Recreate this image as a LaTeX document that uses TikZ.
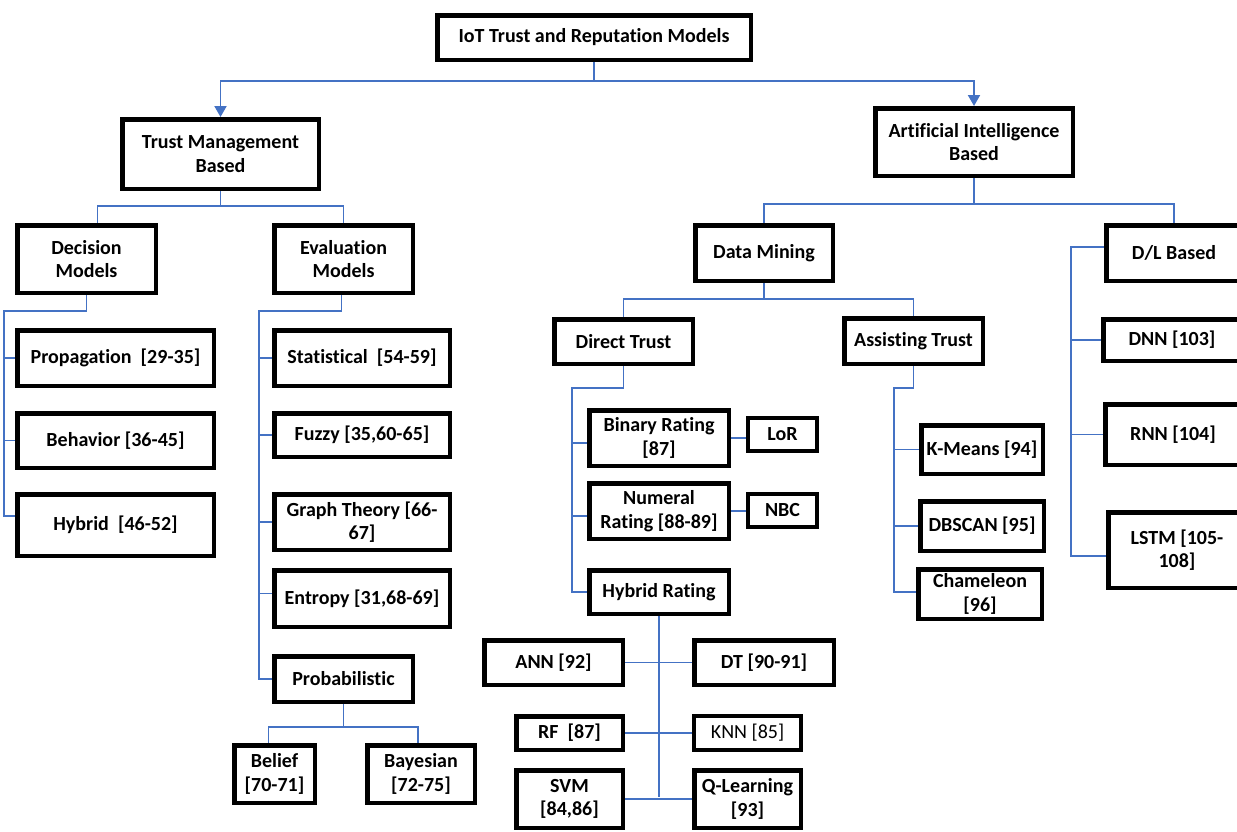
\documentclass[tikz,border=0pt]{standalone}
\usepackage{fontspec}
\setmainfont{Carlito}[Ligatures=NoCommon]
\usetikzlibrary{arrows.meta,backgrounds}
\definecolor{lnblue}{HTML}{4472C4}
\tikzset{
 box/.style={draw=black, line width=4.5pt, fill=white, inner sep=0pt, align=center, font=\fontsize{20}{23.5}\selectfont\bfseries},
 conn/.style={draw=lnblue, line width=1.9pt},
 arr/.style={conn, -{Triangle[width=12pt,length=11pt]}},
}
\newcommand{\mybox}[7][]{\node[box,#1,minimum width={(#5-#3-4.5)*1pt},minimum height={(#6-#4-4.5)*1pt}] (#2) at ({(#3+#5)/2},{(#4+#6)/2}) {#7};}
\begin{document}
\begin{tikzpicture}[x=1pt,y=-1pt]
\useasboundingbox (0,0) rectangle (1237,831);
\mybox{root}{435}{13}{753}{62}{IoT Trust and Reputation Models}
\mybox{tm}{120}{117}{321}{191}{Trust Management\\Based}
\mybox{ai}{873}{106}{1075}{178}{Artificial Intelligence\\Based}
\mybox{dec}{15}{223}{158}{295}{Decision\\Models}
\mybox{eva}{272}{223}{415}{295}{Evaluation\\Models}
\mybox{prop}{15}{328}{216}{388}{Propagation\ \ [29-35]}
\mybox{beh}{15}{411}{216}{470}{Behavior [36-45]}
\mybox{hyb}{15}{492}{216}{558}{Hybrid\ \ [46-52]}
\mybox{stat}{272}{328}{452}{388}{Statistical\ \ [54-59]}
\mybox{fuz}{272}{411}{452}{459}{Fuzzy [35,60-65]}
\mybox{gra}{272}{492}{452}{552}{Graph Theory [66-\\67]}
\mybox{ent}{272}{568}{452}{629}{Entropy [31,68-69]}
\mybox{prob}{272}{654}{415}{704}{Probabilistic}
\mybox{bel}{232}{743}{317}{805}{Belief\\{}[70-71]}
\mybox{bay}{365}{743}{477}{805}{Bayesian\\{}[72-75]}
\mybox{dm}{693}{223}{835}{283}{Data Mining}
\mybox{dl}{1104}{223}{1244}{283}{D/L Based}
\mybox{dt}{552}{317}{695}{366}{Direct Trust}
\mybox{at}{842}{316}{985}{366}{Assisting Trust}
\mybox{bin}{587}{408}{731}{468}{Binary Rating\\{}[87]}
\mybox[line width=4pt]{lor}{746}{416}{819}{453}{LoR}
\mybox{num}{587}{481}{731}{541}{Numeral\\Rating [88-89]}
\mybox[line width=4pt]{nbc}{746}{492}{819}{529}{NBC}
\mybox{hr}{587}{568}{731}{616}{Hybrid Rating}
\mybox{ann}{482}{638}{625}{687}{ANN [92]}
\mybox{dtr}{692}{638}{836}{687}{DT [90-91]}
\mybox{rf}{514}{714}{625}{752}{RF\ \ [87]}
\mybox[line width=4pt]{knn}{692}{714}{803}{752}{\mdseries KNN [85]}
\mybox{svm}{514}{768}{625}{830}{SVM\\{}[84,86]}
\mybox{ql}{692}{768}{803}{830}{Q-Learning\\{}[93]}
\mybox{km}{919}{423}{1045}{476}{K-Means [94]}
\mybox{db}{918}{499}{1046}{553}{DBSCAN [95]}
\mybox{ch}{916}{567}{1044}{621}{Chameleon\\{}[96]}
\mybox{dnn}{1101}{317}{1243}{363}{DNN [103]}
\mybox{rnn}{1103}{402}{1243}{467}{RNN [104]}
\mybox{lstm}{1106}{510}{1248}{590}{LSTM [105-\\108]}
\coordinate (entw) at ([yshift=5pt]ent.west);
\coordinate (binw) at ([yshift=-5pt]bin.west);
\coordinate (numw) at ([yshift=-5pt]num.west);
\begin{scope}[on background layer]
\fill[white] (0,0) rectangle (1237,831);
\coordinate (j0) at (594,81);
\draw[conn] (root.south) -- (j0);
\draw[arr] (j0) -| (tm.north);
\draw[arr] (j0) -| (ai.north);
% trust management
\coordinate (j1) at (220,206);
\draw[conn] (tm.south) -- (tm.south |- j1);
\draw[conn] ([xshift=11pt]dec.north) |- (j1) -| (eva.north);
% decision
\coordinate (dj) at (4,311);
\draw[conn] (dec.south) |- (dj) |- ([yshift=9pt]hyb.west);
\draw[conn] (dj |- prop.west) -- (prop.west);
\draw[conn] (dj |- beh.west) -- (beh.west);
% evaluation
\coordinate (ej) at (259,311);
\draw[conn] ([xshift=-2pt]eva.south) |- (ej) |- (prob.west);
\draw[conn] (ej |- stat.west) -- (stat.west);
\draw[conn] (ej |- fuz.west) -- (fuz.west);
\draw[conn] (ej |- gra.west) -- (gra.west);
\draw[conn] (ej |- entw) -- (entw);
% probabilistic
\coordinate (pj) at (343,727);
\draw[conn] (prob.south) -- (prob.south |- pj);
\draw[conn] ([xshift=-6pt]bel.north) |- (pj) -| ([xshift=-3pt]bay.north);
% AI
\coordinate (j2) at (974,204);
\draw[conn] (ai.south) -- (j2);
\draw[conn] (dm.north) |- (j2) -| (dl.north);
% data mining
\coordinate (j3) at (764,299);
\draw[conn] (dm.south) -- (j3);
\draw[conn] (dt.north) |- (j3) -| (at.north);
% direct trust
\coordinate (dtj) at (572,388);
\draw[conn] (dt.south) |- (dtj) |- (hr.west);
\draw[conn] (dtj |- binw) -- (binw);
\draw[conn] (dtj |- numw) -- (numw);
\draw[conn] (bin.east) -- (lor.west |- bin.east);
\draw[conn] (num.east) -- (nbc.west |- num.east);
% hybrid rating
\draw[conn] (hr.south) -- ([yshift=2pt]hr.south |- svm.east);
\draw[conn] (ann.east) -- (dtr.west);
\draw[conn] (rf.east) -- (knn.west);
\draw[conn] (svm.east) -- (ql.west);
% assisting trust
\coordinate (atj) at (894,388);
\draw[conn] (at.south) |- (atj) |- ([yshift=2pt]ch.west);
\draw[conn] (atj |- km.west) -- (km.west);
\draw[conn] (atj |- db.west) -- (db.west);
% D/L
\coordinate (dlj) at (1071,247);
\draw[conn] ([yshift=6pt]dl.west) -- (dlj) |- ([yshift=-6pt]lstm.west);
\draw[conn] (dlj |- dnn.west) -- (dnn.west);
\draw[conn] (dlj |- rnn.west) -- (rnn.west);
\end{scope}
\end{tikzpicture}
\end{document}
